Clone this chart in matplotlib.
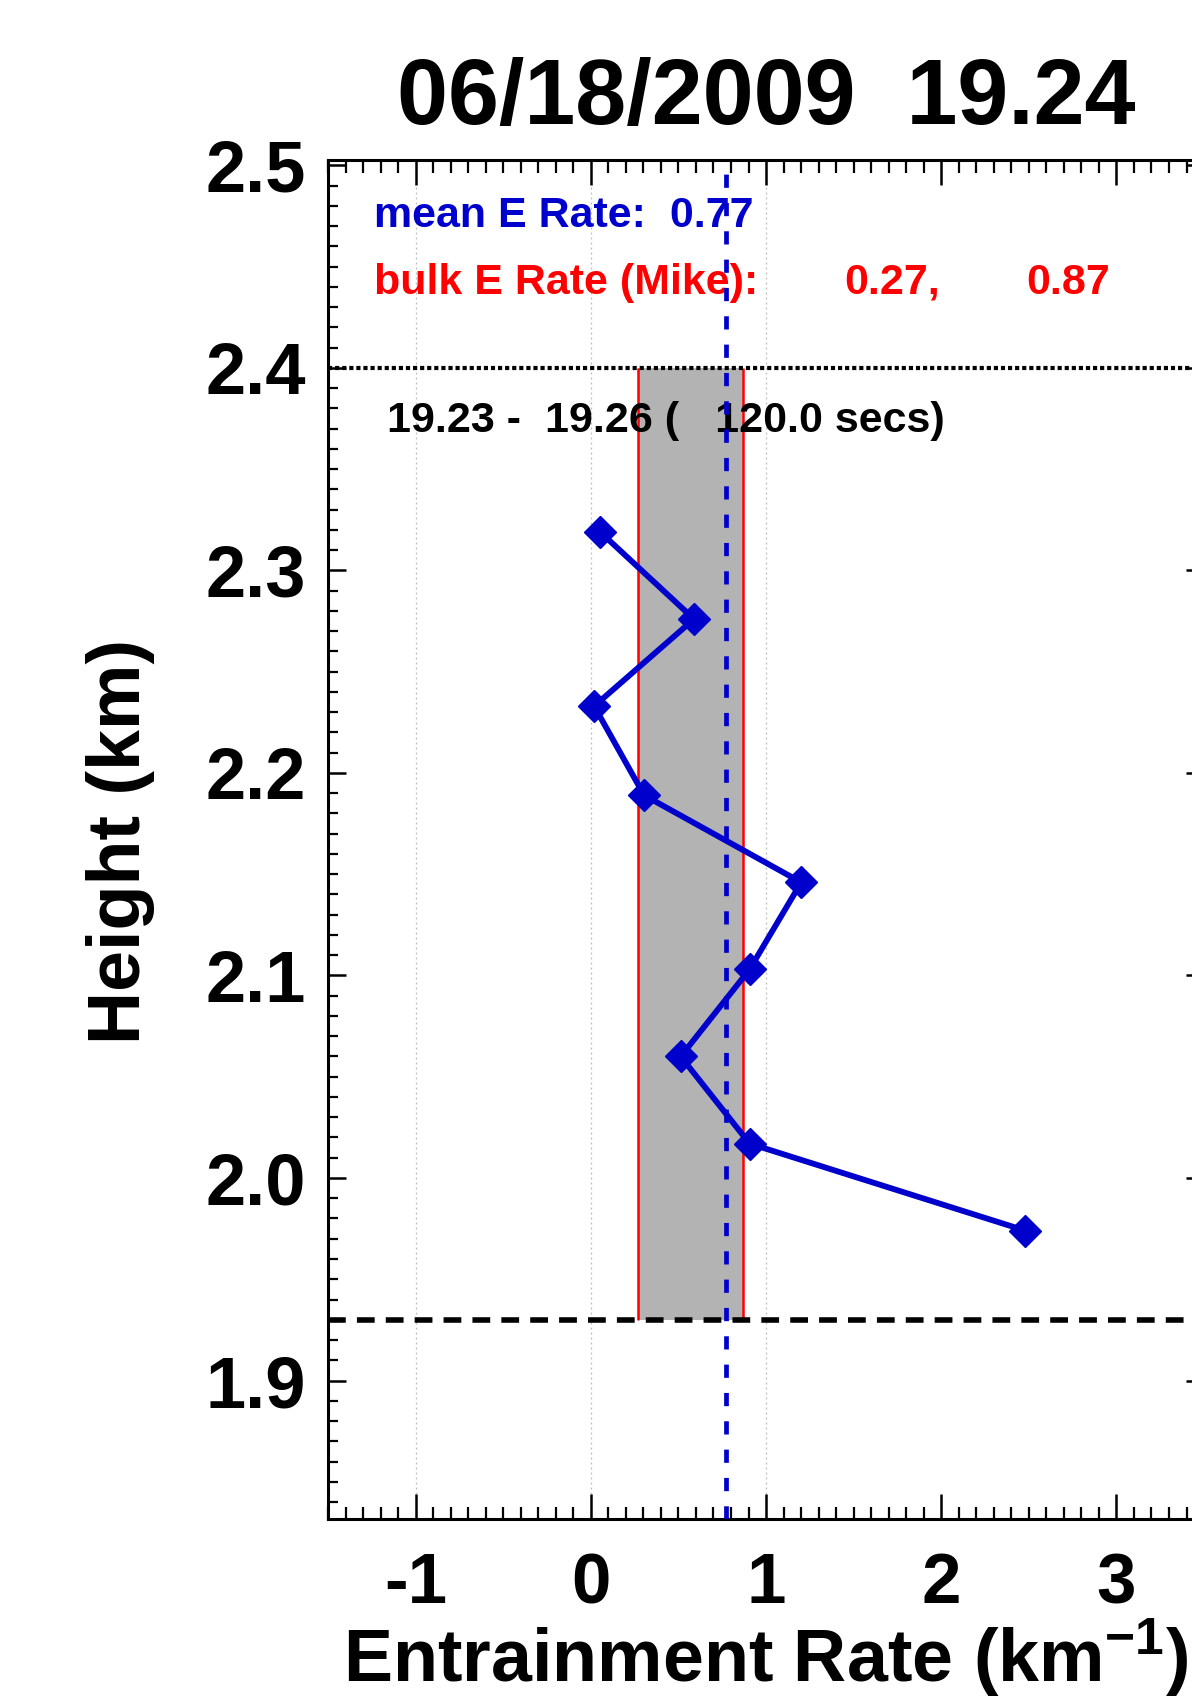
import matplotlib
matplotlib.use('Agg')
import matplotlib.pyplot as plt
from matplotlib.ticker import FixedLocator, MultipleLocator

plt.rcParams['font.family'] = ['Liberation Sans', 'DejaVu Sans']
plt.rcParams['font.weight'] = 'bold'
plt.rcParams['mathtext.fontset'] = 'custom'
plt.rcParams['mathtext.rm'] = 'Liberation Sans:bold'
plt.rcParams['mathtext.default'] = 'rm'

# profile values
rate = [0.053, 0.589, 0.019, 0.304, 1.201, 0.906, 0.513, 0.906, 2.480]
height = [2.319, 2.276, 2.233, 2.189, 2.146, 2.103, 2.060, 2.017, 1.974]

mean_rate = 0.77
bulk_lo = 0.27
bulk_hi = 0.87
top_h = 2.4      # dotted line
base_h = 1.93    # dashed line

title_str = '06/18/2009  19.24'
time_str = '19.23 -  19.26 (   120.0 secs)'
xticks = [-1, 0, 1, 2, 3]
xticklabels = ['-1', '0', '1', '2', '3']
yticks = [1.9, 2.0, 2.1, 2.2, 2.3, 2.4, 2.5]
grid_x = [-1, 0, 1]

blue = '#0000CD'
red = '#FF0000'

fig = plt.figure(figsize=(11.92, 16.98), dpi=100)
# axes runs past the right edge, the original picture is cut there
ax = fig.add_axes([0.2752, 0.1054, 0.7349, 0.8004])
ax.set_xlim(-1.5, 3.5)
ax.set_ylim(1.8316, 2.5027)

for gx in grid_x:
    ax.axvline(gx, color='#BBBBBB', lw=0.9, ls=(0, (1.5, 2.5)), zorder=0.5)

ax.fill_betweenx([base_h, top_h], bulk_lo, bulk_hi, color='#B3B3B3', lw=0, zorder=1)
ax.vlines([bulk_lo, bulk_hi], base_h, top_h, color=red, lw=1.8, zorder=2)

ax.axhline(top_h, color='k', lw=3.0, ls=(0, (1, 0.7)), zorder=3.5)
ax.axhline(base_h, color='k', lw=4.0, ls=(0, (3.2, 2.0)), zorder=3.5)
ax.axvline(mean_rate, color=blue, lw=3.4, ls=(0, (2.8, 3.2)), zorder=4)

ax.plot(rate, height, color=blue, lw=4.2, marker='D', ms=16, mec=blue, mfc=blue, zorder=5)

# text block at the top
ax.text(0.0519, 0.9505, 'mean E Rate:  %.2f' % mean_rate, transform=ax.transAxes,
        color=blue, fontsize=31, fontweight='bold', va='baseline', zorder=3)
ax.text(0.0519, 0.9014, 'bulk E Rate (Mike):', transform=ax.transAxes,
        color=red, fontsize=31, fontweight='bold', va='baseline', zorder=3)
ax.text(0.5896, 0.9014, '%.2f,' % bulk_lo, transform=ax.transAxes,
        color=red, fontsize=31, fontweight='bold', va='baseline', zorder=3)
ax.text(0.7973, 0.9014, '%.2f' % bulk_hi, transform=ax.transAxes,
        color=red, fontsize=31, fontweight='bold', va='baseline', zorder=3)
ax.text(0.0668, 0.8001, time_str, transform=ax.transAxes,
        color='k', fontsize=31, fontweight='bold', va='baseline', zorder=3)

# ticks
ax.xaxis.set_major_locator(FixedLocator(xticks))
ax.set_xticklabels(xticklabels)
ax.xaxis.set_minor_locator(MultipleLocator(0.1))
ax.yaxis.set_major_locator(FixedLocator(yticks))
ax.set_yticklabels(['%.1f' % v for v in yticks])
ax.yaxis.set_minor_locator(MultipleLocator(0.01))

ax.tick_params(axis='x', which='major', direction='in', top=True, bottom=True,
               length=18, width=1.8, labelsize=51, pad=24)
ax.tick_params(axis='x', which='minor', direction='in', top=True, bottom=True,
               length=9, width=1.6)
ax.tick_params(axis='y', which='major', direction='in', left=True, right=True,
               length=12.7, width=1.8, labelsize=52, pad=16)
ax.tick_params(axis='y', which='minor', direction='in', left=True, right=False,
               length=7.2, width=1.6)
for lab in ax.get_xticklabels() + ax.get_yticklabels():
    lab.set_fontweight('bold')
for sp in ax.spines.values():
    sp.set_linewidth(2.2)

# labels and title
xc = 0.2752 + 0.7349 / 2
fig.text(xc, 0.0095, 'Entrainment Rate (km$^{-1}$)', ha='center', va='baseline',
         fontsize=53, fontweight='bold')
fig.text(0.1007, 1 - 842 / 1698, 'Height (km)', rotation=90, ha='center', va='center',
         fontsize=53, fontweight='bold')
fig.text(xc, 1 - 124 / 1698, title_str, ha='center', va='baseline',
         fontsize=66, fontweight='bold')

fig.savefig('out.png', dpi=100)
